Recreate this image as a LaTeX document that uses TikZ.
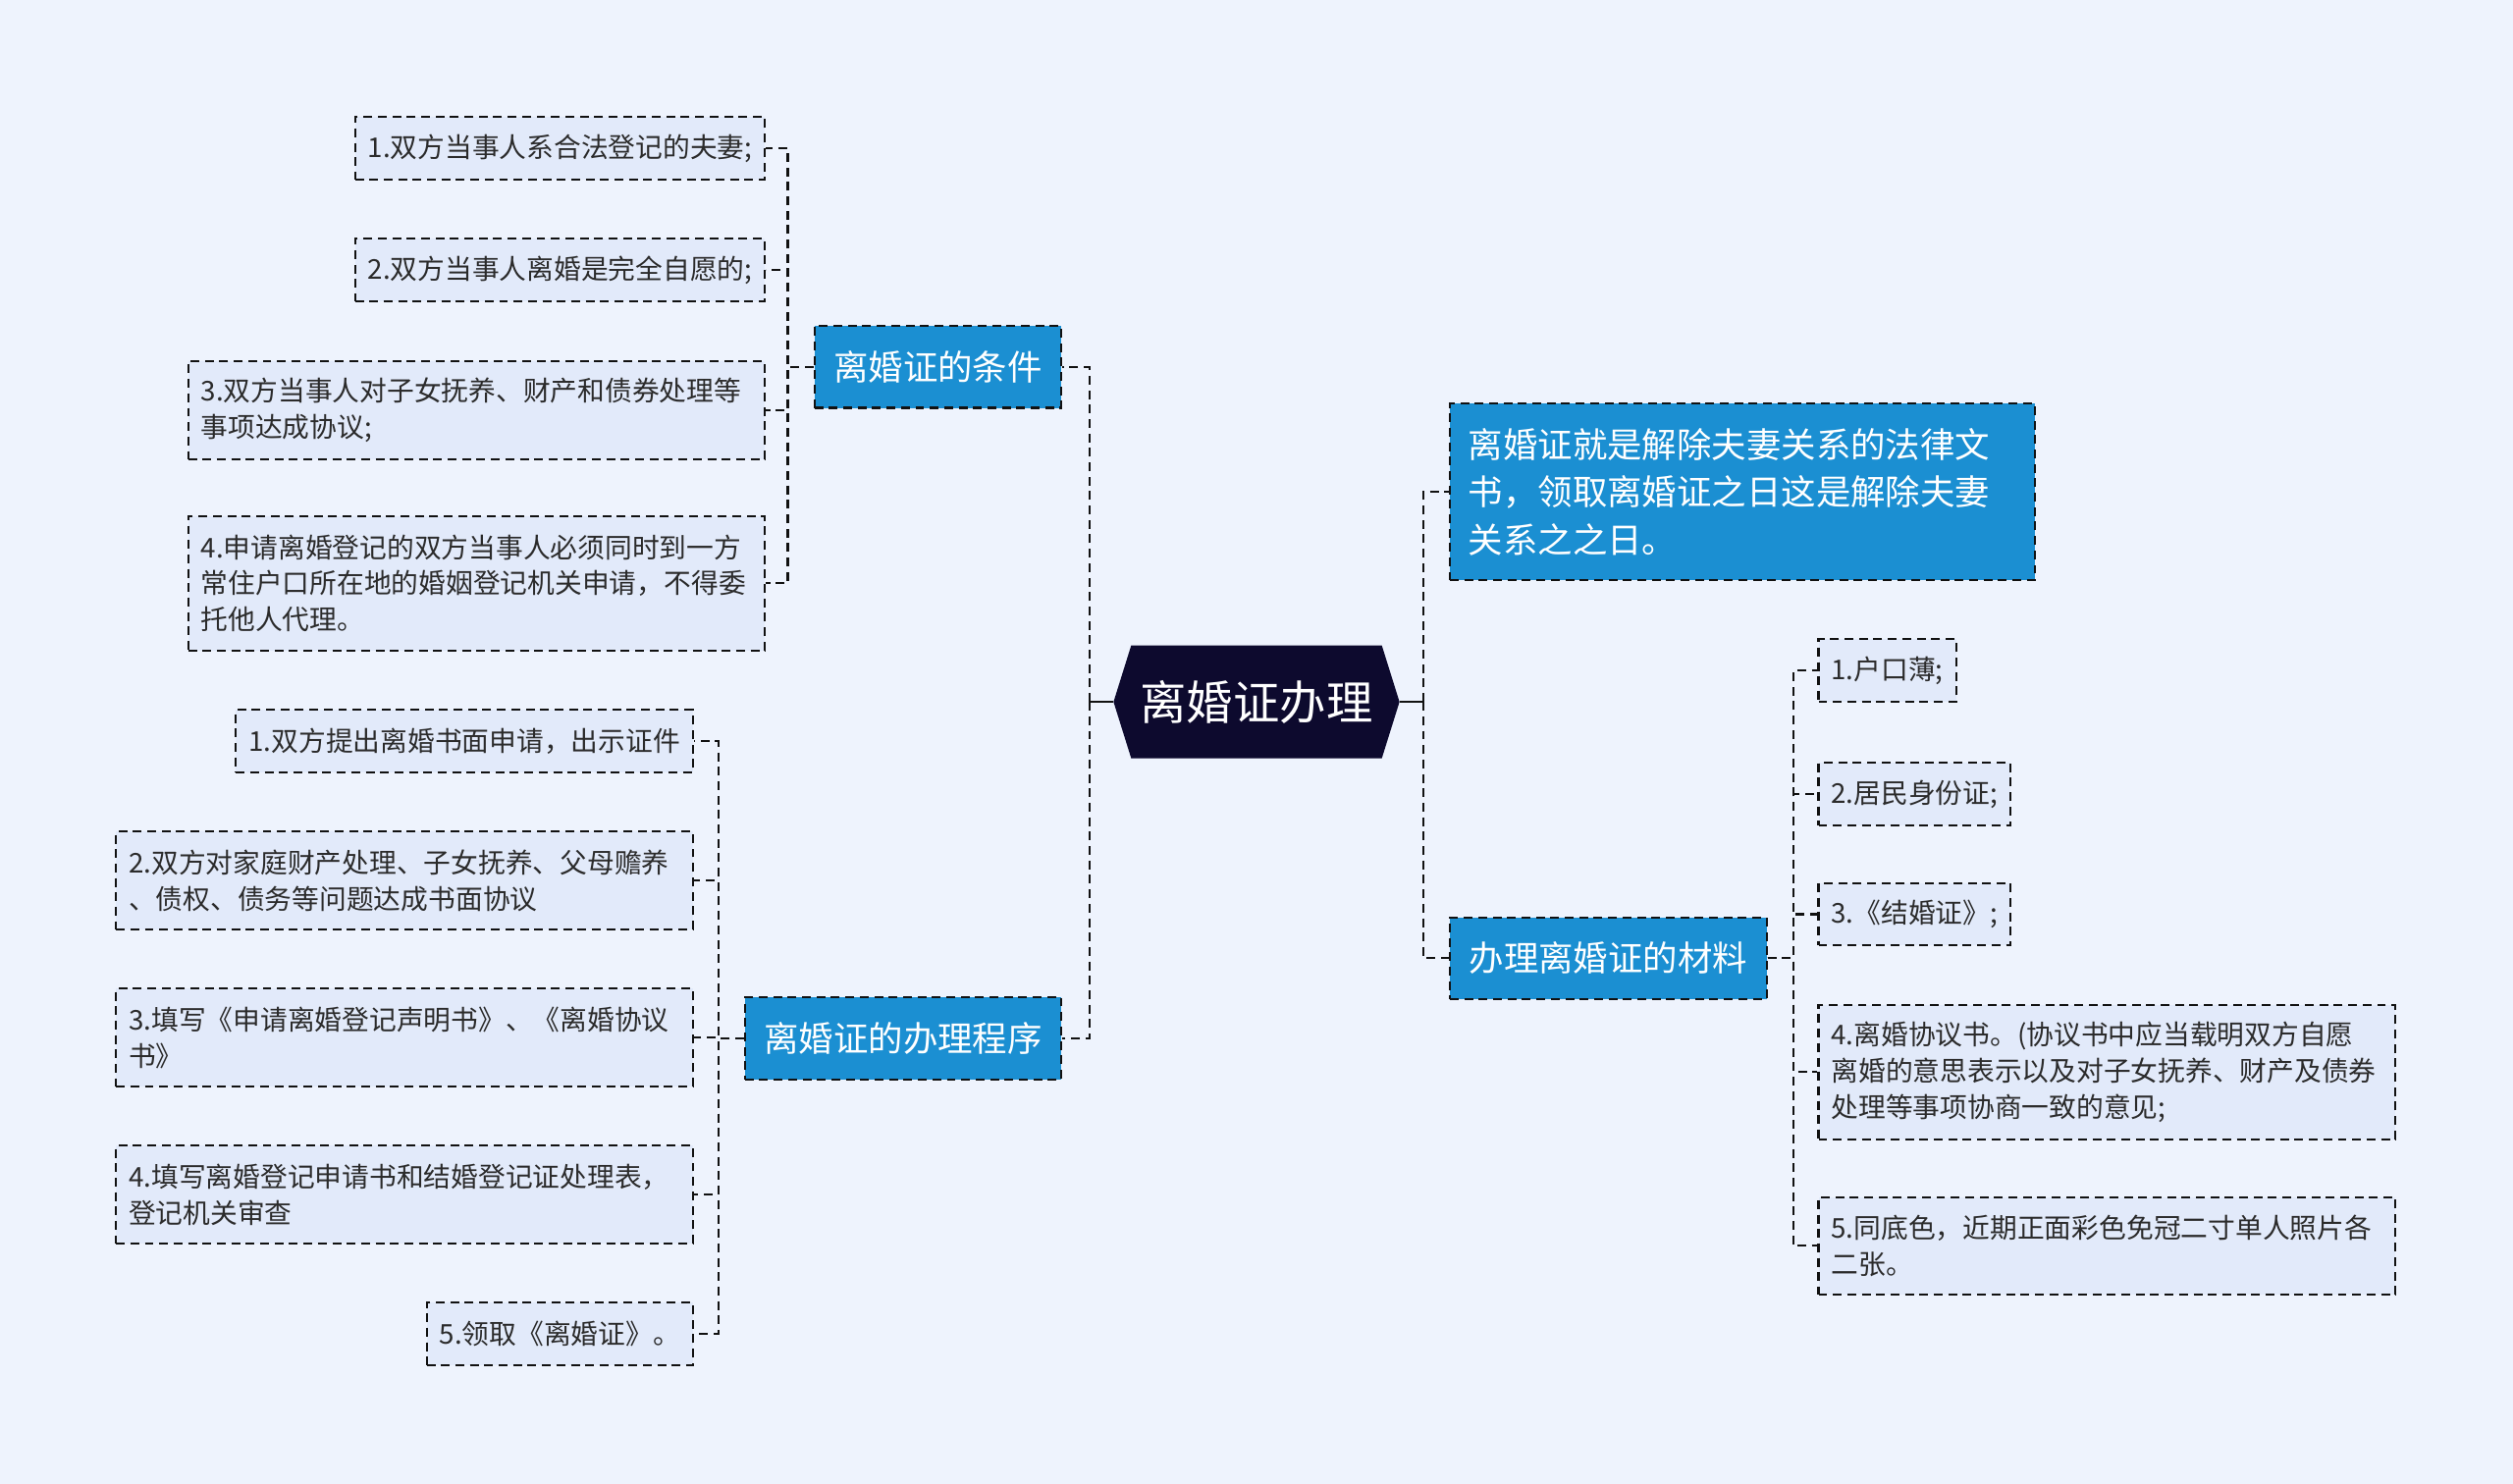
\documentclass[tikz,border=0pt]{standalone}
\usepackage{fontspec}
\setmainfont{Noto Sans CJK SC}
\usepackage{xcolor}
\usetikzlibrary{backgrounds}

\definecolor{bgc}{HTML}{EEF3FD}
\definecolor{leafc}{HTML}{E2EAFA}
\definecolor{bluec}{HTML}{1B8FD2}
\definecolor{rootc}{HTML}{0D0A2E}
\definecolor{linec}{HTML}{111111}
\definecolor{textc}{HTML}{2B2B2B}

\begin{document}
\begin{tikzpicture}[x=1pt, y=-1pt,
  dsh/.style={dash pattern=on 5.5pt off 3.5pt, line width=1.3pt, draw=linec},
  leaf/.style={dsh, fill=leafc, text=textc, font=\fontsize{17}{22.5}\selectfont, inner xsep=8pt, inner ysep=0pt, minimum height=39pt},
  leaftwo/.style={leaf, text width=344pt, align=left, minimum height=61pt},
  leafthree/.style={leaf, text width=344pt, align=left, minimum height=84pt},
  topic/.style={dsh, fill=bluec, text=white, font=\fontsize{21.7}{29.5}\selectfont, inner xsep=12pt, inner ysep=0pt, minimum height=51pt},
  rootbox/.style={text=white, font=\fontsize{29}{35}\selectfont, minimum width=178pt, minimum height=70pt, inner sep=0pt},
  conn/.style={dsh},
  rootline/.style={draw=linec, line width=1.5pt}
]
  \node[rootbox] (root) at (784,438) {离婚证办理};

  \node[topic, anchor=east] (cond) at (663,229) {离婚证的条件};
  \node[topic, anchor=east] (proc) at (663,648) {离婚证的办理程序};
  \node[topic, anchor=west, text width=342pt, align=left, inner xsep=11.5pt, minimum height=110pt] (defn) at (904,307)
    {离婚证就是解除夫妻关系的法律文\\书，领取离婚证之日这是解除夫妻\\关系之之日。};
  \node[topic, anchor=west] (mat) at (904,598) {办理离婚证的材料};

  \node[leaf, anchor=east] (c1) at (478,92.5) {1.双方当事人系合法登记的夫妻;};
  \node[leaf, anchor=east] (c2) at (478,168.5) {2.双方当事人离婚是完全自愿的;};
  \node[leaftwo, anchor=east] (c3) at (478,256) {3.双方当事人对子女抚养、财产和债券处理等\\事项达成协议;};
  \node[leafthree, anchor=east] (c4) at (478,364) {4.申请离婚登记的双方当事人必须同时到一方\\常住户口所在地的婚姻登记机关申请，不得委\\托他人代理。};

  \node[leaf, anchor=east] (p1) at (433,462.5) {1.双方提出离婚书面申请，出示证件};
  \node[leaftwo, anchor=east] (p2) at (433,549.5) {2.双方对家庭财产处理、子女抚养、父母赡养\\、债权、债务等问题达成书面协议};
  \node[leaftwo, anchor=east] (p3) at (433,647.5) {3.填写《申请离婚登记声明书》、《离婚协议\\书》};
  \node[leaftwo, anchor=east] (p4) at (433,745.5) {4.填写离婚登记申请书和结婚登记证处理表，\\登记机关审查};
  \node[leaf, anchor=east] (p5) at (433,832.5) {5.领取《离婚证》。};

  \node[leaf, anchor=west] (m1) at (1134,418.5) {1.户口薄;};
  \node[leaf, anchor=west] (m2) at (1134,495.5) {2.居民身份证;};
  \node[leaf, anchor=west] (m3) at (1134,570.5) {3.《结婚证》;};
  \node[leafthree, anchor=west] (m4) at (1134,669) {4.离婚协议书。(协议书中应当载明双方自愿\\离婚的意思表示以及对子女抚养、财产及债券\\处理等事项协商一致的意见;};
  \node[leaftwo, anchor=west] (m5) at (1134,777.5) {5.同底色，近期正面彩色免冠二寸单人照片各\\二张。};

  \draw[rootline] (root.west) -- ++(-15,0) coordinate (lj);
  \draw[rootline] (root.east) -- ++(15,0) coordinate (rj);
  \draw[conn] (lj) |- (cond.east);
  \draw[conn] (lj) |- (proc.east);
  \draw[conn] (rj) |- (defn.west);
  \draw[conn] (rj) |- (mat.west);

  \foreach \n in {c1,c2,c3,c4}
    \draw[conn] (cond.west) -- ++(-16,0) |- (\n.east);
  \foreach \n in {p1,p2,p3,p4,p5}
    \draw[conn] (proc.west) -- ++(-16,0) |- (\n.east);
  \foreach \n in {m1,m2,m3,m4,m5}
    \draw[conn] (mat.east) -- ++(16,0) |- (\n.west);

  \begin{scope}[on background layer]
    \fill[bgc] (0,0) rectangle (1568,926);
    \fill[rootc] (root.west) -- ([xshift=11pt]root.north west) -- ([xshift=-11pt]root.north east)
      -- (root.east) -- ([xshift=-11pt]root.south east) -- ([xshift=11pt]root.south west) -- cycle;
  \end{scope}
\end{tikzpicture}
\end{document}
